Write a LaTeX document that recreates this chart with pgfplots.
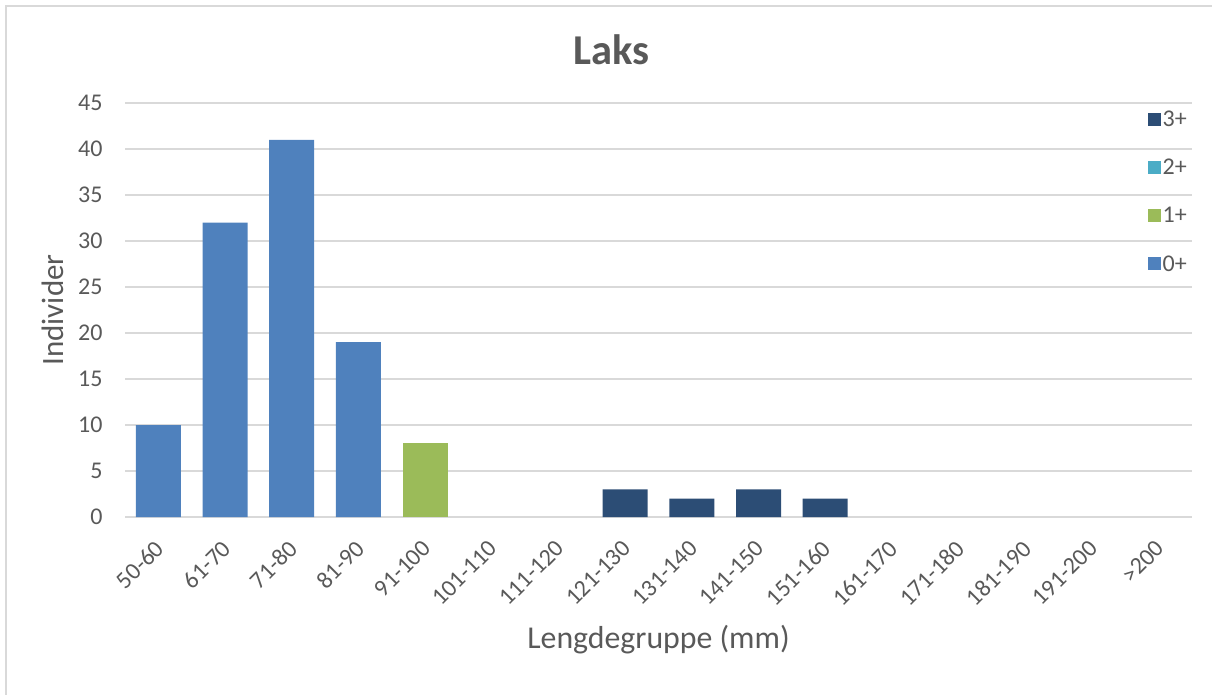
\documentclass[border=0pt]{standalone}
\usepackage{pgfplots}
\pgfplotsset{compat=1.18}
\usepackage{fontspec}
\setmainfont{Carlito}
\definecolor{txt}{HTML}{595959}
\definecolor{gridc}{HTML}{D9D9D9}
\definecolor{c0}{HTML}{4F81BD}
\definecolor{c1}{HTML}{9BBB59}
\definecolor{c2}{HTML}{4BACC6}
\definecolor{c3}{HTML}{2C4D75}
\begin{document}
\begin{tikzpicture}
\draw[gridc, line width=1.5pt] (6pt,-695pt) -- (6pt,-6pt) -- (1212pt,-6pt);
\begin{axis}[
  at={(125pt,-517pt)}, anchor=south west,
  width=1067pt, height=414pt, scale only axis,
  ybar stacked, bar width=45pt,
  xmin=-0.5, xmax=15.5, ymin=0, ymax=45,
  xtick={0,...,15},
  xticklabels={50-60,61-70,71-80,81-90,91-100,101-110,111-120,121-130,131-140,141-150,151-160,161-170,171-180,181-190,191-200,>200},
  ytick={0,5,...,45},
  axis line style={draw=none},
  axis x line*=bottom,
  x axis line style={draw=gridc, line width=1.5pt},
  xmajorgrids=false,
  ymajorgrids, grid style={draw=gridc, line width=1.5pt},
  major tick length=0pt,
  tick style={draw=none},
  /pgf/number format/assume math mode=true,
  yticklabel style={font=\fontsize{24}{28}\selectfont, text=txt, anchor=east, xshift=-19pt},
  xticklabel style={font=\fontsize{24}{28}\selectfont, text=txt, rotate=45, anchor=north east, xshift=-15pt, yshift=-9pt},
  legend style={at={(1.0,0.99)}, anchor=north east, draw=none, fill=none,
    font=\fontsize{24}{28}\selectfont, text=txt, row sep=27pt,
    legend cell align=left},
  reverse legend,
  legend image code/.code={\fill[#1] (0pt,-6.5pt) rectangle (13pt,6.5pt);},
  clip=false,
]
\addplot[fill=c0, draw=none] coordinates {(0,10) (1,32) (2,41) (3,19) (4,0) (5,0) (6,0) (7,0) (8,0) (9,0) (10,0) (11,0) (12,0) (13,0) (14,0) (15,0)};
\addplot[fill=c1, draw=none] coordinates {(0,0) (1,0) (2,0) (3,0) (4,8) (5,0) (6,0) (7,0) (8,0) (9,0) (10,0) (11,0) (12,0) (13,0) (14,0) (15,0)};
\addplot[fill=c2, draw=none] coordinates {(0,0) (1,0) (2,0) (3,0) (4,0) (5,0) (6,0) (7,0) (8,0) (9,0) (10,0) (11,0) (12,0) (13,0) (14,0) (15,0)};
\addplot[fill=c3, draw=none] coordinates {(0,0) (1,0) (2,0) (3,0) (4,0) (5,0) (6,0) (7,3) (8,2) (9,3) (10,2) (11,0) (12,0) (13,0) (14,0) (15,0)};
\legend{0+,1+,2+,3+}
\end{axis}
\node[font=\fontsize{42.5}{50}\selectfont\bfseries, text=txt, anchor=base] at (611pt,-65pt) {Laks};
\node[font=\fontsize{31.8}{38}\selectfont, text=txt, anchor=base] at (658.5pt,-648pt) {Lengdegruppe (mm)};
\node[font=\fontsize{31}{37}\selectfont, text=txt, rotate=90] at (53pt,-310pt) {Individer};
\pgfresetboundingbox
\useasboundingbox (0pt,0pt) rectangle (1212pt,-695pt);
\end{tikzpicture}
\end{document}
